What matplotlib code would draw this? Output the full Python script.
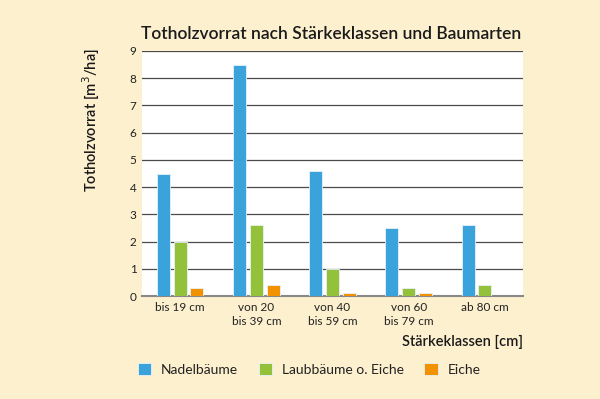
import matplotlib.pyplot as plt
import numpy as np

classes = ['bis 19 cm', 'von 20\nbis 39 cm', 'von 40\nbis 59 cm', 'von 60\nbis 79 cm', 'ab 80 cm']
nadel = [4.5, 8.5, 4.6, 2.5, 2.6]
laub = [2.0, 2.6, 1.0, 0.3, 0.4]
eiche = [0.3, 0.4, 0.1, 0.1, 0.0]
series = ['Nadelbäume', 'Laubbäume o. Eiche', 'Eiche']
colors = ['#3ba3dc', '#94c13a', '#f39200']

plt.rcParams['font.family'] = ['Lato', 'DejaVu Sans']
bg = '#fdf0cf'

fig = plt.figure(figsize=(6, 3.99), dpi=100, facecolor=bg)
ax = fig.add_axes([0.2367, 0.2581, 0.635, 0.6141])
ax.set_facecolor('white')

x = np.arange(len(classes))
w = 0.17
off = 0.22
for i, (vals, c, name) in enumerate(zip([nadel, laub, eiche], colors, series)):
    ax.bar(x + (i - 1) * off, vals, w, color=c, edgecolor='#e8f2f8', linewidth=0.6,
           label=name, zorder=3)

ax.set_xlim(-0.5, 4.5)
ax.set_ylim(0, 9)
ax.set_yticks(range(10))
ax.yaxis.grid(True, color='#4a4a4a', linewidth=0.9, zorder=1)
ax.tick_params(length=0, labelsize=8.5, colors='#222222', pad=4)
ax.set_xticks(x)
ax.set_xticklabels(classes, fontsize=8.5, linespacing=1.4)
for s in ['left', 'right', 'top']:
    ax.spines[s].set_visible(False)
ax.spines['bottom'].set_color('#888888')
ax.spines['bottom'].set_linewidth(1.5)

fig.text(0.552, 0.915, 'Totholzvorrat nach Stärkeklassen und Baumarten', ha='center', va='center',
         fontsize=12.5, color='#1a1a1a', fontweight='semibold')
fig.text(0.152, 0.70, 'Totholzvorrat [m$^3$/ha]', rotation=90, ha='center', va='center',
         fontsize=10.5, color='#1a1a1a', fontweight='semibold')
fig.text(0.872, 0.143, 'Stärkeklassen [cm]', ha='right', va='center', fontsize=10.5, color='#1a1a1a',
         fontweight='semibold')

fig.legend(loc='center', bbox_to_anchor=(0.515, 0.073), ncol=3, frameon=False, fontsize=10,
           handlelength=0.95, handleheight=0.95, columnspacing=1.5, handletextpad=0.7,
           labelcolor='#222222')

fig.savefig('out.png', dpi=100, facecolor=bg)
